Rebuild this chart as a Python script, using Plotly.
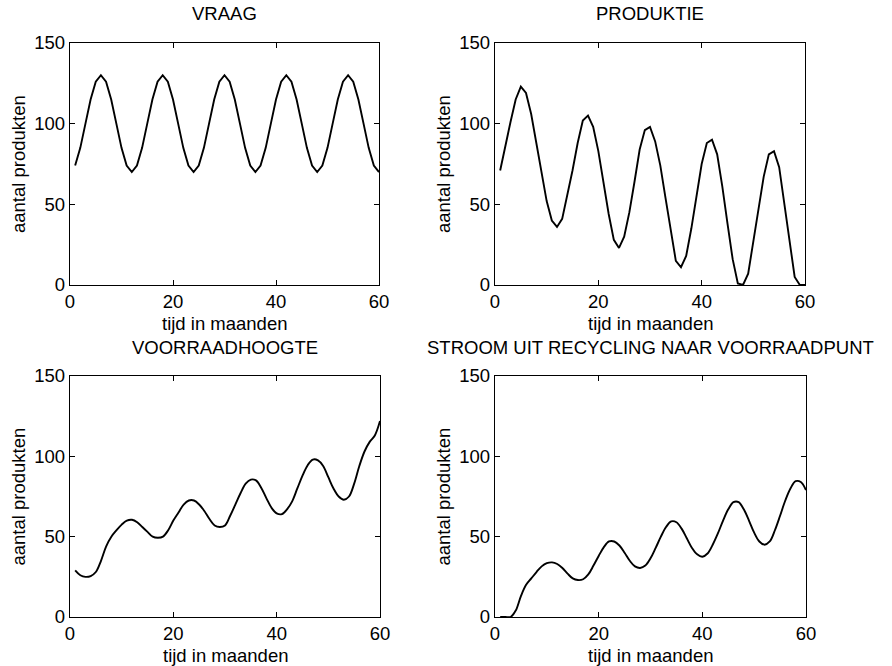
import plotly.graph_objects as go

# ---- data ----
months = list(range(1, 61))

vraag = [74, 85, 100, 115, 126, 130, 126, 115, 100, 85, 74, 70,
         74, 85, 100, 115, 126, 130, 126, 115, 100, 85, 74, 70,
         74, 85, 100, 115, 126, 130, 126, 115, 100, 85, 74, 70,
         74, 85, 100, 115, 126, 130, 126, 115, 100, 85, 74, 70,
         74, 85, 100, 115, 126, 130, 126, 115, 100, 85, 74, 70]

produktie = [71, 87, 101, 115, 123, 119, 106, 88, 70, 52, 40, 36,
             41, 55, 71, 88, 102, 105, 98, 83, 64, 44, 28, 23,
             30, 45, 64, 84, 96, 98, 89, 74, 54, 33, 15, 11,
             18, 35, 55, 75, 88, 90, 81, 61, 38, 16, 1, 0,
             7, 27, 48, 67, 81, 83, 73, 50, 27, 5, 0, 0]

voorraad = [29, 26, 25, 25.5, 28, 35, 44, 50, 54, 57.5, 60, 60.5,
            59, 56, 53, 50, 49.3, 50, 54, 60, 65, 70, 72.5, 72.5,
            70, 66, 61, 57, 56, 57, 63, 70, 77, 83, 85.5, 85,
            80.5, 74, 68, 64.5, 64, 67, 72, 80, 88, 94.5, 98, 97.5,
            94, 87, 80, 75, 73, 75, 83, 94, 103, 109, 113, 122]

recycling = [0, 0, 0, 4, 13, 20, 24, 28, 31.5, 33.5, 34, 33,
             30.5, 27, 24, 23, 23.5, 26.5, 32, 38, 43.5, 47, 47, 44.5,
             40, 35, 31.5, 30.5, 32, 36.5, 43, 50, 56, 59.5, 59, 55,
             49, 43, 39, 37.5, 39.5, 45, 52, 60, 67, 71.5, 71.5, 67,
             60, 52.5, 47, 45, 47, 54, 63, 72.5, 80, 84.5, 84, 79]

titles = ["VRAAG", "PRODUKTIE", "VOORRAADHOOGTE",
          "STROOM UIT RECYCLING NAAR VOORRAADPUNT"]
series = [vraag, produktie, voorraad, recycling]
shapes_line = ["linear", "linear", "spline", "spline"]
x_label = "tijd in maanden"
y_label = "aantal produkten"
x_ticks = [0, 20, 40, 60]
y_ticks = [0, 50, 100, 150]

# ---- layout geometry (pixels) ----
W, H = 892, 666
panels = [  # (left, right, top, bottom) in pixels
    (70, 379, 43, 285),
    (495, 805, 43, 285),
    (70, 380, 376, 617),
    (495, 806, 376, 617),
]

FONT = "Liberation Sans, Arial, Helvetica, sans-serif"
FS = 18.5

fig = go.Figure()
annotations = []
layout_axes = {}
for i, (ys, ttl, shp, (l, r, t, b)) in enumerate(zip(series, titles, shapes_line, panels)):
    n = i + 1
    xa = "x" if n == 1 else f"x{n}"
    ya = "y" if n == 1 else f"y{n}"
    fig.add_trace(go.Scatter(x=months, y=ys, mode="lines",
                             line=dict(color="black", width=1.9, shape=shp),
                             xaxis=xa, yaxis=ya, showlegend=False,
                             hoverinfo="skip"))
    xkey = "xaxis" if n == 1 else f"xaxis{n}"
    ykey = "yaxis" if n == 1 else f"yaxis{n}"
    common = dict(showgrid=False, zeroline=False, showline=True, linecolor="black",
                  linewidth=1.4, mirror="ticks", ticks="inside", ticklen=5,
                  tickwidth=1.2, tickcolor="black",
                  tickfont=dict(family=FONT, size=FS, color="black"),
                  automargin=False, fixedrange=True)
    layout_axes[xkey] = dict(common, domain=[l / W, r / W], range=[0, 60],
                             tickmode="array", tickvals=x_ticks, anchor=ya)
    layout_axes[ykey] = dict(common, domain=[1 - b / H, 1 - t / H], range=[0, 150],
                             tickmode="array", tickvals=y_ticks, anchor=xa)
    cx = (l + r) / 2
    annotations.append(dict(text=ttl, x=cx / W, y=1 - (t - 29) / H, xref="paper",
                            yref="paper", showarrow=False, xanchor="center",
                            yanchor="middle",
                            font=dict(family=FONT, size=FS, color="black")))
    annotations.append(dict(text=x_label, x=cx / W, y=1 - (b + 38) / H, xref="paper",
                            yref="paper", showarrow=False, xanchor="center",
                            yanchor="middle",
                            font=dict(family=FONT, size=FS, color="black")))
    annotations.append(dict(text=y_label, x=(l - 52) / W, y=1 - ((t + b) / 2) / H,
                            xref="paper", yref="paper", showarrow=False,
                            xanchor="center", yanchor="middle", textangle=-90,
                            font=dict(family=FONT, size=FS, color="black")))

fig.update_layout(width=W, height=H, margin=dict(l=0, r=0, t=0, b=0),
                  paper_bgcolor="white", plot_bgcolor="white",
                  annotations=annotations, **layout_axes)

fig.write_html("out.html", config={"displayModeBar": False})
